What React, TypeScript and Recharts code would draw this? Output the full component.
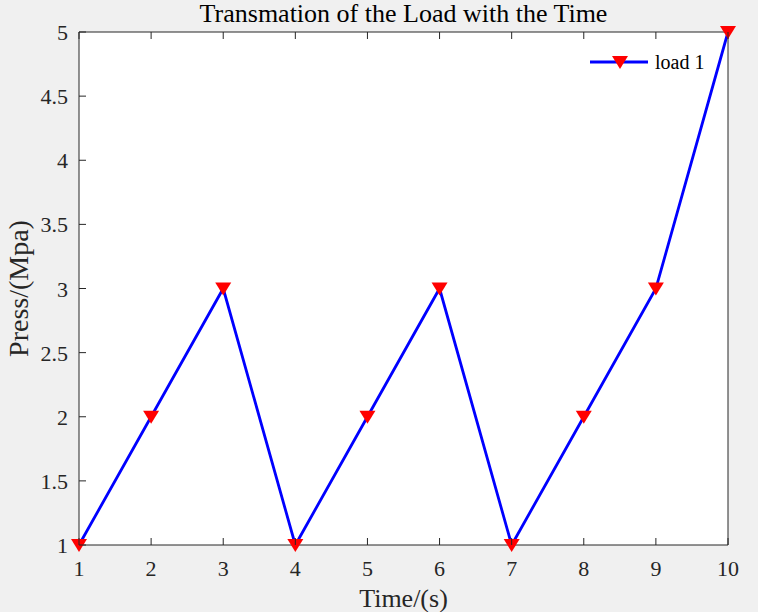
import React from "react";
import { LineChart, Line, XAxis, YAxis } from "recharts";

const times = [1, 2, 3, 4, 5, 6, 7, 8, 9, 10];
const loads = [1, 2, 3, 1, 2, 3, 1, 2, 3, 5];
const xTicks = [1, 2, 3, 4, 5, 6, 7, 8, 9, 10];
const yTicks = [1, 1.5, 2, 2.5, 3, 3.5, 4, 4.5, 5];

const data = times.map((t, i) => ({ time: t, load: loads[i] }));

const W = 758;
const H = 612;
// plot box: x 79..728, y 32..545 (axes take 1px each)
const M = { top: 31, right: 29, bottom: 66, left: 78 };
const PLOT = { left: 79, top: 32, right: 728, bottom: 545 };
const AXIS = "#262626";
const FONT = "'Liberation Serif', 'Times New Roman', serif";
const TICK_LEN = 7;

if (typeof document !== "undefined") document.body.style.margin = "0";

const BottomTick = (props: any) => {
  const { x, y, payload } = props;
  return (
    <g>
      <line x1={x} y1={y} x2={x} y2={y - TICK_LEN} stroke={AXIS} strokeWidth={1} />
      <text x={x} y={y + 31} textAnchor="middle" fill={AXIS} fontSize={22} fontFamily={FONT}>
        {payload.value}
      </text>
    </g>
  );
};

const TopTick = (props: any) => {
  const { x, y } = props;
  return <line x1={x} y1={y} x2={x} y2={y + TICK_LEN} stroke={AXIS} strokeWidth={1} />;
};

const LeftTick = (props: any) => {
  const { x, y, payload } = props;
  return (
    <g>
      <line x1={x} y1={y} x2={x + TICK_LEN} y2={y} stroke={AXIS} strokeWidth={1} />
      <text x={x - 11} y={y + 8} textAnchor="end" fill={AXIS} fontSize={22} fontFamily={FONT}>
        {payload.value}
      </text>
    </g>
  );
};

const RightTick = (props: any) => {
  const { x, y } = props;
  return <line x1={x} y1={y} x2={x - TICK_LEN} y2={y} stroke={AXIS} strokeWidth={1} />;
};

const Triangle = (props: any) => {
  const { cx, cy } = props;
  if (cx == null || cy == null) return null;
  return <path d={`M${cx - 8},${cy - 6} L${cx + 8},${cy - 6} L${cx},${cy + 7} Z`} fill="#ff0000" />;
};

export default function App() {
  const plotW = PLOT.right - PLOT.left;
  const plotH = PLOT.bottom - PLOT.top;
  const midX = PLOT.left + plotW / 2;
  const midY = PLOT.top + plotH / 2;
  return (
    <div style={{ position: "relative", width: W, height: H, background: "#f0f0f0", fontFamily: FONT, overflow: "hidden" }}>
      <div
        style={{
          position: "absolute",
          left: PLOT.left,
          top: PLOT.top,
          width: plotW,
          height: plotH,
          background: "#ffffff",
        }}
      />
      <div style={{ position: "absolute", left: 0, top: 0 }}>
        <LineChart width={W} height={H} data={data} margin={M} style={{ overflow: "visible" }}>
          <XAxis
            dataKey="time"
            type="number"
            domain={[1, 10]}
            ticks={xTicks}
            xAxisId="bottom"
            orientation="bottom"
            height={1}
            tickSize={0}
            tickMargin={0}
            stroke={AXIS}
            tick={<BottomTick />}
            interval={0}
          />
          <XAxis
            dataKey="time"
            type="number"
            domain={[1, 10]}
            ticks={xTicks}
            xAxisId="top"
            orientation="top"
            height={1}
            tickSize={0}
            tickMargin={0}
            stroke={AXIS}
            tick={<TopTick />}
            interval={0}
          />
          <YAxis
            type="number"
            domain={[1, 5]}
            ticks={yTicks}
            yAxisId="left"
            orientation="left"
            width={1}
            tickSize={0}
            tickMargin={0}
            stroke={AXIS}
            tick={<LeftTick />}
            interval={0}
          />
          <YAxis
            type="number"
            domain={[1, 5]}
            ticks={yTicks}
            yAxisId="right"
            orientation="right"
            width={1}
            tickSize={0}
            tickMargin={0}
            stroke={AXIS}
            tick={<RightTick />}
            interval={0}
          />
          <Line
            xAxisId="bottom"
            yAxisId="left"
            dataKey="load"
            stroke="#0000ff"
            strokeWidth={2.8}
            dot={<Triangle />}
            activeDot={false}
            isAnimationActive={false}
          />
        </LineChart>
      </div>
      <svg style={{ position: "absolute", left: 0, top: 0, pointerEvents: "none" }} width={W} height={H}>
        <text x={midX} y={22} textAnchor="middle" fontSize={26} fontFamily={FONT} fill="#000">
          Transmation of the Load with the Time
        </text>
        <text x={midX} y={607} textAnchor="middle" fontSize={26} fontFamily={FONT} fill={AXIS}>
          Time/(s)
        </text>
        <text
          x={0}
          y={0}
          transform={`translate(28, ${midY}) rotate(-90)`}
          textAnchor="middle"
          fontSize={28}
          fontFamily={FONT}
          fill={AXIS}
        >
          Press/(Mpa)
        </text>
        <line x1={590} y1={62} x2={648} y2={62} stroke="#0000ff" strokeWidth={2.8} />
        <path d="M612,56 L628,56 L620,69 Z" fill="#ff0000" />
        <text x={655} y={69} fontSize={20} fontFamily={FONT} fill="#000">
          load 1
        </text>
      </svg>
    </div>
  );
}
